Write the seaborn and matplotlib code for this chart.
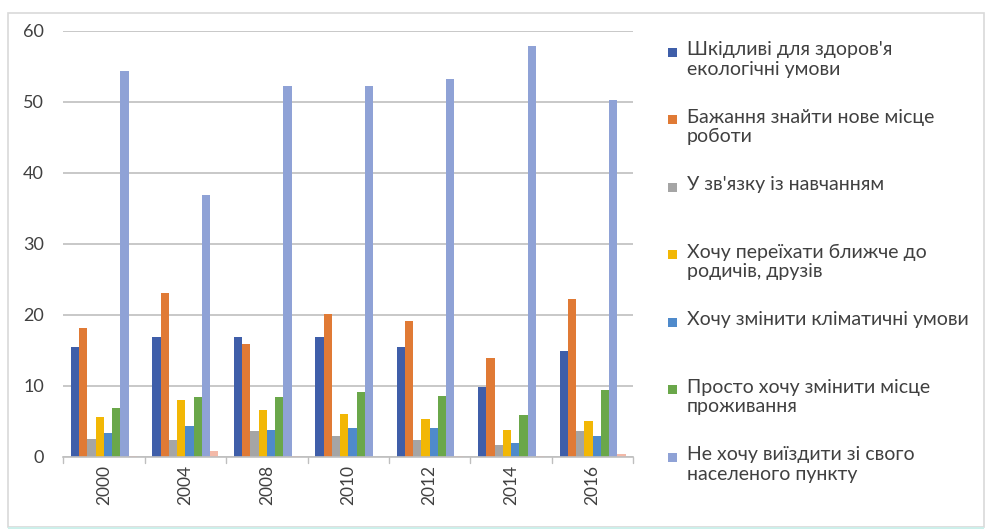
import pandas as pd
import numpy as np
import matplotlib.pyplot as plt
import seaborn as sns
from matplotlib.patches import Rectangle

years = ['2000', '2004', '2008', '2010', '2012', '2014', '2016']

reasons = [
    "Шкідливі для здоров'я\nекологічні умови",
    "Бажання знайти нове місце\nроботи",
    "У зв'язку із навчанням",
    "Хочу переїхати ближче до\nродичів, друзів",
    "Хочу змінити кліматичні умови",
    "Просто хочу змінити місце\nпроживання",
    "Не хочу виїздити зі свого\nнаселеного пункту",
    "Інше",
]

ecology = [15.5, 16.9, 16.9, 16.9, 15.5, 9.8, 14.9]
new_job = [18.1, 23.1, 15.9, 20.1, 19.1, 14.0, 22.2]
study = [2.6, 2.4, 3.7, 3.0, 2.4, 1.7, 3.6]
relatives = [5.6, 8.0, 6.6, 6.1, 5.3, 3.8, 5.0]
climate = [3.4, 4.4, 3.8, 4.1, 4.1, 1.9, 3.0]
just_move = [6.9, 8.4, 8.4, 9.1, 8.6, 5.9, 9.4]
stay = [54.4, 36.9, 52.2, 52.2, 53.2, 57.9, 50.3]
other = [0.2, 0.8, 0.1, 0.0, 0.1, 0.1, 0.4]

colors = ['#3F5EA9', '#E07A35', '#A5A5A5', '#F2B705', '#4F8ACB',
          '#6AA74A', '#8FA2D6', '#F3B9A8']

series = [ecology, new_job, study, relatives, climate, just_move, stay, other]
rows = []
for name, vals in zip(reasons, series):
    for y, v in zip(years, vals):
        rows.append({'year': y, 'reason': name, 'value': v})
df = pd.DataFrame(rows)

sns.set_style('white')
plt.rcParams['font.family'] = ['Lato', 'DejaVu Sans']

fig = plt.figure(figsize=(9.88, 5.32), dpi=100)
ax = fig.add_axes([0.064, 0.141, 0.577, 0.801])

sns.barplot(data=df, x='year', y='value', hue='reason', hue_order=reasons,
            palette=colors, width=0.81, gap=0, legend=False, ax=ax,
            errorbar=None, saturation=1, linewidth=0)
# bars touch each other inside a group: widen each bar to the dodge pitch
pitch = 0.81 / len(reasons)
for p in ax.patches:
    cx = p.get_x() + p.get_width() / 2
    p.set_width(pitch)
    p.set_x(cx - pitch / 2)

ax.set_ylim(0, 60)
ax.set_xlim(-0.5, 6.5)
ax.set_yticks(range(0, 61, 10))
ax.yaxis.grid(True, color='#BFBFBF', linewidth=1.2)
ax.set_axisbelow(True)
for s in ['top', 'right', 'left']:
    ax.spines[s].set_visible(False)
ax.spines['bottom'].set_color('#BFBFBF')
ax.spines['bottom'].set_linewidth(1.2)

ax.set_xlabel('')
ax.set_ylabel('')
ax.tick_params(axis='y', length=0, labelsize=13, colors='#404040', pad=14)
ax.set_xticks(np.arange(7))
ax.set_xticklabels(years, rotation=90, fontsize=12.5, color='#404040')
ax.tick_params(axis='x', length=0, pad=6)
# tick marks between groups
for xb in np.arange(-0.5, 7, 1):
    ax.plot([xb, xb], [0, -0.9], color='#BFBFBF', lw=1.0, clip_on=False)

# legend: equal-height slots, marker next to the first line (as in Excel)
W, H = 988.0, 532.0
slot = 67.5
for i, (lab, c) in enumerate(zip(reasons[:7], colors[:7])):
    yc = 52 + i * slot
    fig.patches.append(Rectangle((668 / W, 1 - (yc + 4.5) / H), 9 / W, 9 / H,
                                 transform=fig.transFigure,
                                 facecolor=c, edgecolor='none'))
    fig.text(687 / W, 1 - (yc - 11) / H, lab, ha='left', va='top',
             fontsize=14, color='#404040', linespacing=1.2)

# chart area border
fig.patches.append(Rectangle((0.008, 0.01), 0.988, 0.965, transform=fig.transFigure,
                             fill=False, edgecolor='#D9D9D9', linewidth=1.2))
fig.patches.append(Rectangle((0.008, 0.005), 0.988, 0.004, transform=fig.transFigure,
                             facecolor='#CDEFEA', edgecolor='none'))

plt.savefig('out.png', dpi=100)
plt.close()
